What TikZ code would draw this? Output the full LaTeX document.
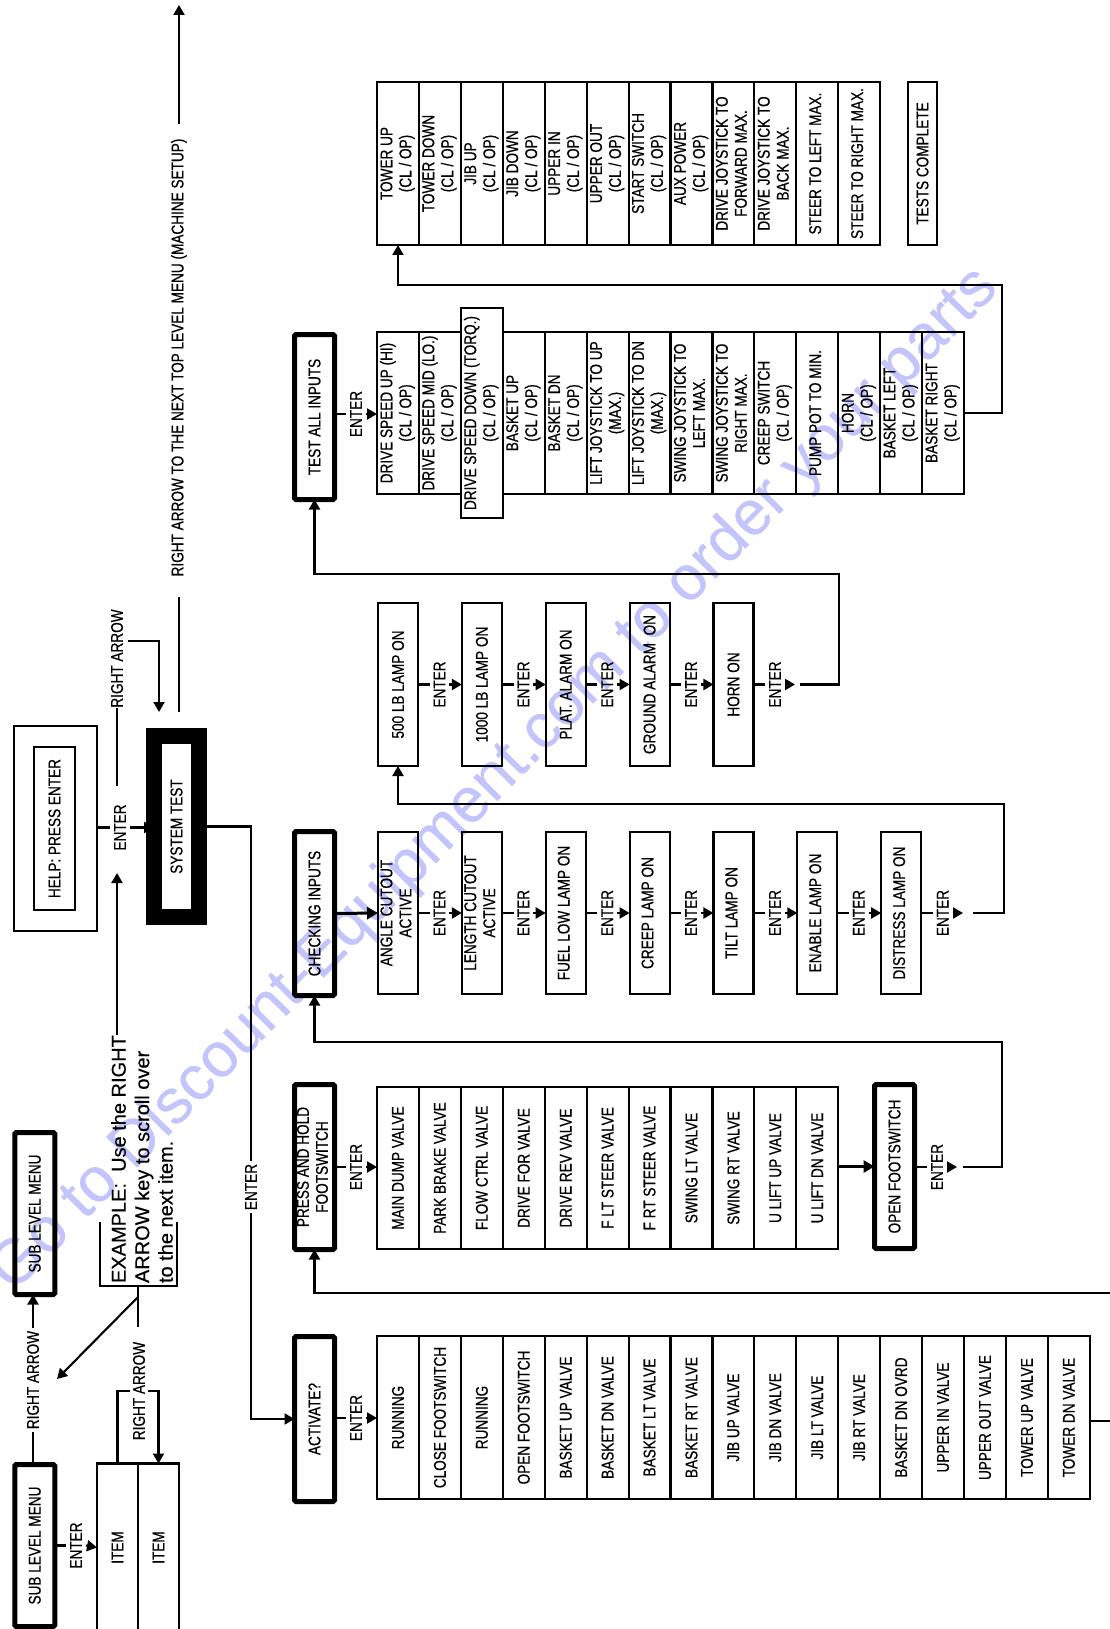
\documentclass[tikz,border=0pt]{standalone}
\usepackage{fontspec}
\setmainfont{Liberation Sans}[FakeStretch=0.8,FakeBold=0.6]
\newfontfamily\exfont{Liberation Sans}[FakeBold=0.4]
\usetikzlibrary{arrows.meta}
\newcommand\rt[1]{\rotatebox{90}{\begin{tabular}{@{}c@{}}#1\end{tabular}}}
\newcommand\rr[1]{\rotatebox{90}{#1}}
\definecolor{wm}{RGB}{196,196,252}
\begin{document}
\begin{tikzpicture}[x=1pt,y=-1pt,
  every node/.style={inner sep=0pt,outer sep=0pt,font=\fontsize{17}{19}\selectfont},
  ln/.style={line width=2.1pt},
  arr/.style={line width=2.1pt,-{Triangle[length=10pt,width=11pt]}},
  tarr/.style={line width=3pt,-{Triangle[length=11pt,width=12pt]}},
  cell/.style={draw,line width=2.1pt,minimum width=41.93pt,minimum height=#1},
  sbox/.style={draw,line width=2.1pt,minimum width=40pt,minimum height=#1},
  tk/.style={draw,line width=5pt,rounded corners=1.5pt,minimum width=40pt,minimum height=#1},
  en/.style={outer sep=4pt},
]
\useasboundingbox (0,0) rectangle (1110,1629);
\clip (0,0) rectangle (1110,1629);

% watermark
\node[text=wm,font=\exfont\fontsize{63}{63}\selectfont] (wmk) at (495,780) {\rotatebox{45.5}{Go to Discount-Equipment.com to order your parts}};

% ---------- top table ----------
\foreach \t [count=\i] in {{TOWER UP\\(CL / OP)},{TOWER DOWN\\(CL / OP)},{JIB UP\\(CL / OP)},{JIB DOWN\\(CL / OP)},{UPPER IN\\(CL / OP)},{UPPER OUT\\(CL / OP)},{START SWITCH\\(CL / OP)},{AUX POWER\\(CL / OP)},{DRIVE JOYSTICK TO\\FORWARD MAX.},{DRIVE JOYSTICK TO\\BACK MAX.},{STEER TO LEFT MAX.},{STEER TO RIGHT MAX.}}
  \node[cell=163] (t\i) at ({377+41.93*(\i-0.5)},163.5) {\rt{\t}};
\node[draw,line width=2.1pt,minimum width=29pt,minimum height=163pt] (tc) at (922.5,163.5) {\rr{TESTS COMPLETE}};

% ---------- row 1: test all inputs ----------
\node[tk=165] (tai) at (314.5,417) {\rr{TEST ALL INPUTS}};
\node[en] (e1) at (356,414) {\rr{ENTER}};
\foreach \t [count=\i] in {{DRIVE SPEED UP (HI)\\(CL / OP)},{DRIVE SPEED MID (LO.)\\(CL / OP)},{DRIVE SPEED DOWN (TORQ.)\\(CL / OP)},{BASKET UP\\(CL / OP)},{BASKET DN\\(CL / OP)},{LIFT JOYSTICK TO UP\\(MAX.)},{LIFT JOYSTICK TO DN\\(MAX.)},{SWING JOYSTICK TO\\LEFT MAX.},{SWING JOYSTICK TO\\RIGHT MAX.},{CREEP SWITCH\\(CL / OP)},{PUMP POT TO MIN.},{HORN\\(CL / OP)},{BASKET LEFT\\(CL / OP)},{BASKET RIGHT\\(CL / OP)}}
{
  \pgfmathsetmacro\hh{ifthenelse(\i==3,210,162)}
  \node[cell=\hh] (a\i) at ({377+41.93*(\i-0.5)},413) {\rt{\t}};
}
\draw[ln] (tai.east |- e1.west) -- (e1.west);
\draw[arr] (e1.east) -- (e1.east -| a1.west);
\draw[arr] (a14.east) -| (1002,285) -| (t1.south);

% ---------- row 2: lamps ----------
\foreach \t [count=\i] in {500 LB LAMP ON,1000 LB LAMP ON,PLAT. ALARM ON,GROUND ALARM\ \ ON,HORN ON}
{
  \node[sbox=163] (b\i) at ({398+83.86*(\i-1)},684.5) {\rr{\t}};
  \node[en] (eb\i) at ({398+83.86*(\i-1)+41.5},684.5) {\rr{ENTER}};
  \draw[ln] (b\i.east) -- (eb\i.west);
}
\foreach \i [evaluate=\i as \j using int(\i+1)] in {1,...,4}
  \draw[arr] (eb\i.east) -- (b\j.west);
\coordinate (hb5) at (795,684.5);
\coordinate (lb5) at (800,684.5);
\draw[arr] (eb5.east) -- (hb5);
\draw[arr] (lb5) -| (839,574) -| (tai.south);

% ---------- row 3: checking inputs ----------
\node[tk=164] (ci) at (314.5,913.5) {\rr{CHECKING INPUTS}};
\foreach \t [count=\i] in {{ANGLE CUTOUT\\ACTIVE},{LENGTH CUTOUT\\ACTIVE},{FUEL LOW LAMP ON},{CREEP LAMP ON},{TILT LAMP ON},{ENABLE LAMP ON},{DISTRESS LAMP ON}}
{
  \node[sbox=162] (c\i) at ({398+83.86*(\i-1)},913) {\rt{\t}};
  \node[en] (ec\i) at ({398+83.86*(\i-1)+41.5},913) {\rr{ENTER}};
  \draw[ln] (c\i.east) -- (ec\i.west);
}
\foreach \i [evaluate=\i as \j using int(\i+1)] in {1,...,6}
  \draw[arr] (ec\i.east) -- (c\j.west);
\draw[tarr] (ci.east) -- (c1.west);
\coordinate (hc7) at (963,913);
\coordinate (lc7) at (973,913);
\draw[arr] (ec7.east) -- (hc7);
\draw[arr] (lc7) -| (1004,804) -| (b1.south);

% ---------- row 4: press and hold ----------
\node[tk=165] (ph) at (314.5,1167) {\rt{PRESS AND HOLD\\FOOTSWITCH}};
\node[en] (e4) at (356,1167) {\rr{ENTER}};
\foreach \t [count=\i] in {MAIN DUMP VALVE,PARK BRAKE VALVE,FLOW CTRL VALVE,DRIVE FOR VALVE,DRIVE REV VALVE,F LT STEER VALVE,F RT STEER VALVE,SWING LT VALVE,SWING RT VALVE,U LIFT UP VALVE,U LIFT DN VALVE}
  \node[cell=162] (p\i) at ({377+41.93*(\i-0.5)},1168) {\rr{\t}};
\draw[ln] (ph.east) -- (e4.west);
\draw[arr] (e4.east) -- (e4.east -| p1.west);
\node[tk=164] (of) at (894.5,1166.5) {\rr{OPEN FOOTSWITCH}};
\draw[tarr] (p11.east |- of.west) -- (of.west);
\node[en] (eof) at (937,1167) {\rr{ENTER}};
\draw[ln] (of.east |- eof.west) -- (eof.west);
\coordinate (hof) at (957,1167);
\coordinate (lof) at (963,1167);
\draw[arr] (eof.east) -- (hof);
\draw[arr] (lof) -| (1002,1042) -| (ci.south);

% ---------- row 5: activate ----------
\node[tk=165] (ac) at (314.5,1419) {\rr{ACTIVATE?}};
\node[en] (e5) at (356,1418) {\rr{ENTER}};
\foreach \t [count=\i] in {RUNNING,CLOSE FOOTSWITCH,RUNNING,OPEN FOOTSWITCH,BASKET UP VALVE,BASKET DN VALVE,BASKET LT VALVE,BASKET RT VALVE,JIB UP VALVE,JIB DN VALVE,JIB LT VALVE,JIB RT VALVE,BASKET DN OVRD,UPPER IN VALVE,UPPER OUT VALVE,TOWER UP VALVE,TOWER DN VALVE}
  \node[cell=163] (v\i) at ({377+41.93*(\i-0.5)},1417.5) {\rr{\t}};
\draw[ln] (ac.east |- e5.west) -- (e5.west);
\draw[arr] (e5.east) -- (e5.east -| v1.west);
\coordinate (vout) at (1115,1421);
\draw[ln] (v17.east |- vout) -- (vout);
\coordinate (pin) at (1115,1293);
\draw[arr] (pin) -| (ph.south);

% ---------- system test ----------
\node[draw,line width=2.1pt,minimum width=83pt,minimum height=205pt] (ho) at (55.5,828.5) {};
\node[draw,line width=2.1pt,minimum width=41pt,minimum height=163pt] (hi) at (54.5,828.5) {\rr{HELP: PRESS ENTER}};
\node[draw,line width=16pt,minimum width=45pt,minimum height=181pt] (st) at (176.5,826.5) {\rr{SYSTEM TEST}};
\node[en] (eh) at (120,827.5) {\rr{ENTER}};
\draw[ln] (ho.east |- eh.west) -- (eh.west);
\draw[arr] (eh.east) -- (eh.east -| st.west);
\node[outer sep=3pt] (es) at (251,1187) {\rr{ENTER}};
\draw[ln] (st.east) -| (es.north);
\draw[arr] (es.south) |- (ac.west);

\node (ra1) at (117,658.5) {\rr{RIGHT ARROW}};
\coordinate (c1) at (117,786);
\draw[ln] (c1) -- (ra1.south);
\coordinate (r1) at (128,641);
\coordinate (r2) at (159,712);
\draw[arr] (r1) -| (r2);

\node (ttl) at (179,357.5) {\rr{RIGHT ARROW TO THE NEXT TOP LEVEL MENU (MACHINE SETUP)}};
\coordinate (s1) at (179,712);
\coordinate (s2) at (179,597);
\coordinate (s3) at (179,124);
\coordinate (s4) at (179,5);
\draw[ln] (s1) -- (s2);
\draw[arr] (s3) -- (s4);

% ---------- example ----------
\node[anchor=south,font=\exfont\fontsize{20}{23.5}\selectfont] (ex) at (144.5,1283) {\rotatebox{90}{\begin{tabular}{@{}l@{}}EXAMPLE:\ \ Use the RIGHT\\ARROW key to scroll over\\to the next item.\end{tabular}}};
\draw[ln] (100,1222) -- (100,1286) -- (177,1286) -- (177,1222);
\coordinate (x0) at (138,1286);
\coordinate (x1) at (138,1327);
\coordinate (x2) at (138,1297);
\coordinate (x3) at (57,1379);
\draw[ln] (x0) -- (x1);
\draw[arr] (x2) -- (x3);
\coordinate (x4) at (117,1035);
\coordinate (x5) at (117,873);
\draw[arr] (x4) -- (x5);

% ---------- sub level menus ----------
\node[tk=162] (slm1) at (34.75,1213.5) {\rr{SUB LEVEL MENU}};
\node[tk=162] (slm2) at (34.75,1545.5) {\rr{SUB LEVEL MENU}};
\node[outer sep=3pt] (ra2) at (33,1380) {\rr{RIGHT ARROW}};
\draw[ln] (slm2.north -| ra2.south) -- (ra2.south);
\draw[arr] (ra2.north) -- (ra2.north |- slm1.south);
\node[cell=168,minimum width=41pt] (i1) at (117.5,1547.5) {\rr{ITEM}};
\node[cell=168,minimum width=41pt] (i2) at (158.5,1547.5) {\rr{ITEM}};
\node[en] (es2) at (76,1545.5) {\rr{ENTER}};
\draw[ln] (slm2.east) -- (es2.west);
\draw[arr] (es2.east) -- (i1.west);
\node[outer sep=3pt] (ra3) at (139,1391) {\rr{RIGHT ARROW}};
\draw[ln] (i1.north) |- (ra3.west);
\draw[arr] (ra3.east) -| (i2.north);
\end{tikzpicture}
\end{document}
